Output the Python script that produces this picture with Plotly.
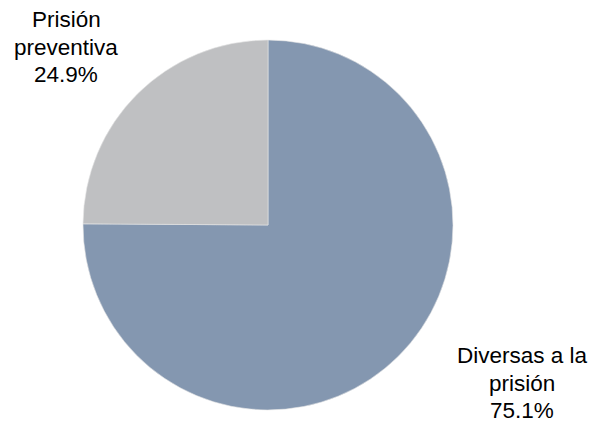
import plotly.graph_objects as go

labels = ["Diversas a la prisión", "Prisión preventiva"]
label_lines = [["Diversas a la", "prisión"], ["Prisión", "preventiva"]]
values = [75.1, 24.9]
colors = ["#8497B0", "#BFC0C2"]

fig = go.Figure(go.Pie(
    labels=labels, values=values, sort=False, direction="clockwise",
    rotation=0, textinfo="none", hoverinfo="label+percent",
    marker=dict(colors=colors, line=dict(color="#E6E6E6", width=0.6)),
    domain=dict(x=[83/595, 453/595], y=[1-410/423, 1-40/423]),
    showlegend=False,
))

W, H = 595, 423
FS = 22.5
label_anchor = [(522, 363), (66, 27)]  # center x, first baseline (px)
line_gap = 27.7
for lines, val, (cx, b0) in zip(label_lines, values, label_anchor):
    all_lines = lines + [f"{val:.1f}%"]
    for i, t in enumerate(all_lines):
        base = b0 + i * line_gap
        ymid = base - 0.33 * FS
        fig.add_annotation(x=cx / W, y=1 - ymid / H, xref="paper", yref="paper",
                           text=t, showarrow=False,
                           xanchor="center", yanchor="middle", align="center",
                           font=dict(family="Liberation Sans, Arial", size=FS, color="#000000"))

fig.update_layout(width=W, height=H, margin=dict(l=0, r=0, t=0, b=0),
                  paper_bgcolor="white", plot_bgcolor="white")
fig.write_html("out.html", config={"displayModeBar": False},
               post_script="document.body.style.margin='0';document.body.style.padding='0';")
